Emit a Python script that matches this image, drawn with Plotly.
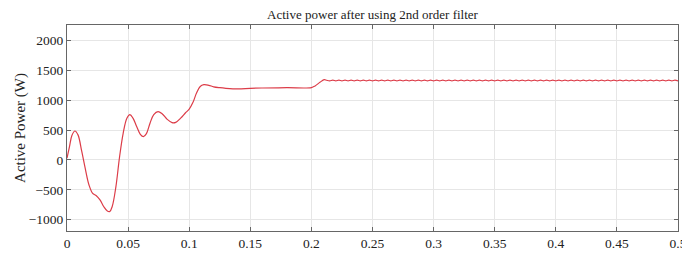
import numpy as np
import plotly.graph_objects as go

# transient part (time in s, power in W)
t_transient = [0.000, 0.002, 0.004, 0.0065, 0.009, 0.012, 0.015, 0.018, 0.021, 0.024,
               0.027, 0.030, 0.033, 0.035, 0.037, 0.040, 0.043, 0.046, 0.049, 0.0515,
               0.054, 0.057, 0.060, 0.0625, 0.065, 0.068, 0.071, 0.0745, 0.078, 0.082,
               0.086, 0.089, 0.093, 0.097, 0.100, 0.103, 0.106, 0.109, 0.112, 0.116,
               0.120, 0.125, 0.130, 0.140, 0.150, 0.160, 0.180, 0.200, 0.203, 0.207,
               0.2105]
p_transient = [30, 220, 410, 485, 420, 150, -150, -420, -560, -600,
               -670, -780, -855, -862, -780, -450, 50, 450, 700, 760,
               700, 560, 430, 390, 440, 620, 760, 810, 770, 680,
               625, 630, 700, 790, 850, 960, 1120, 1230, 1260, 1250,
               1225, 1210, 1200, 1190, 1200, 1205, 1210, 1212, 1240, 1300,
               1345]

# steady-state ripple after 0.2125 s, sampled every 0.0025 s
p_ripple = [1334, 1324, 1336, 1324, 1336, 1324, 1336, 1324, 1336, 1324,
            1336, 1324, 1336, 1324, 1336, 1324, 1336, 1324, 1336, 1324,
            1336, 1324, 1336, 1324, 1336, 1324, 1336, 1324, 1336, 1324,
            1336, 1324, 1336, 1324, 1336, 1324, 1336, 1324, 1336, 1324,
            1336, 1324, 1336, 1324, 1336, 1324, 1336, 1324, 1336, 1324,
            1336, 1324, 1336, 1324, 1336, 1324, 1336, 1324, 1336, 1324,
            1336, 1324, 1336, 1324, 1336, 1324, 1336, 1324, 1336, 1324,
            1336, 1324, 1336, 1324, 1336, 1324, 1336, 1324, 1336, 1324,
            1336, 1324, 1336, 1324, 1336, 1324, 1336, 1324, 1336, 1324,
            1336, 1324, 1336, 1324, 1336, 1324, 1336, 1324, 1336, 1324,
            1336, 1324, 1336, 1324, 1336, 1324, 1336, 1324, 1336, 1324,
            1336, 1324, 1336, 1324, 1336, 1324]
t_ripple = list(np.linspace(0.2125, 0.5, len(p_ripple)))

x_ticks = [0, 0.05, 0.1, 0.15, 0.2, 0.25, 0.3, 0.35, 0.4, 0.45, 0.5]
x_tick_text = ["0", "0.05", "0.1", "0.15", "0.2", "0.25", "0.3", "0.35", "0.4", "0.45", "0.5"]
y_ticks = [-1000, -500, 0, 500, 1000, 1500, 2000]

t_all = t_transient + t_ripple
p_all = p_transient + p_ripple

font = "Liberation Serif, Times New Roman, serif"

fig = go.Figure()
fig.add_trace(go.Scatter(x=t_all, y=p_all, mode="lines", line_shape="spline",
                         line=dict(color="#dc3c48", width=1.2), showlegend=False))

axis_common = dict(
    showline=True, linecolor="#666666", linewidth=1, mirror="ticks",
    ticks="inside", ticklen=4, tickcolor="#666666", automargin=False,
    showgrid=True, gridcolor="#e6e6e6", gridwidth=1, zeroline=False,
    tickfont=dict(family=font, size=13.5, color="#222222"),
)

# the page body adds an 8 px offset, so the figure is sized to fit the rest
fig.update_layout(
    width=682, height=245,
    margin=dict(l=59, r=12, t=17, b=22),
    paper_bgcolor="white", plot_bgcolor="white",
    title=dict(text="Active power after using 2nd order filter",
               x=(59 + 670) / 2 / 682, xanchor="center", y=0.972, yanchor="middle",
               font=dict(family=font, size=13, color="#222222")),
    xaxis=dict(range=[0, 0.5], tickvals=x_ticks, ticktext=x_tick_text, **axis_common),
    yaxis=dict(range=[-1190, 2260], tickvals=y_ticks, **axis_common),
    annotations=[dict(text="Active Power (W)", textangle=-90, showarrow=False,
                      xref="paper", yref="paper", x=-0.077, y=0.5,
                      xanchor="center", yanchor="middle",
                      font=dict(family=font, size=15, color="#222222"))],
)

fig.write_html("out.html")
